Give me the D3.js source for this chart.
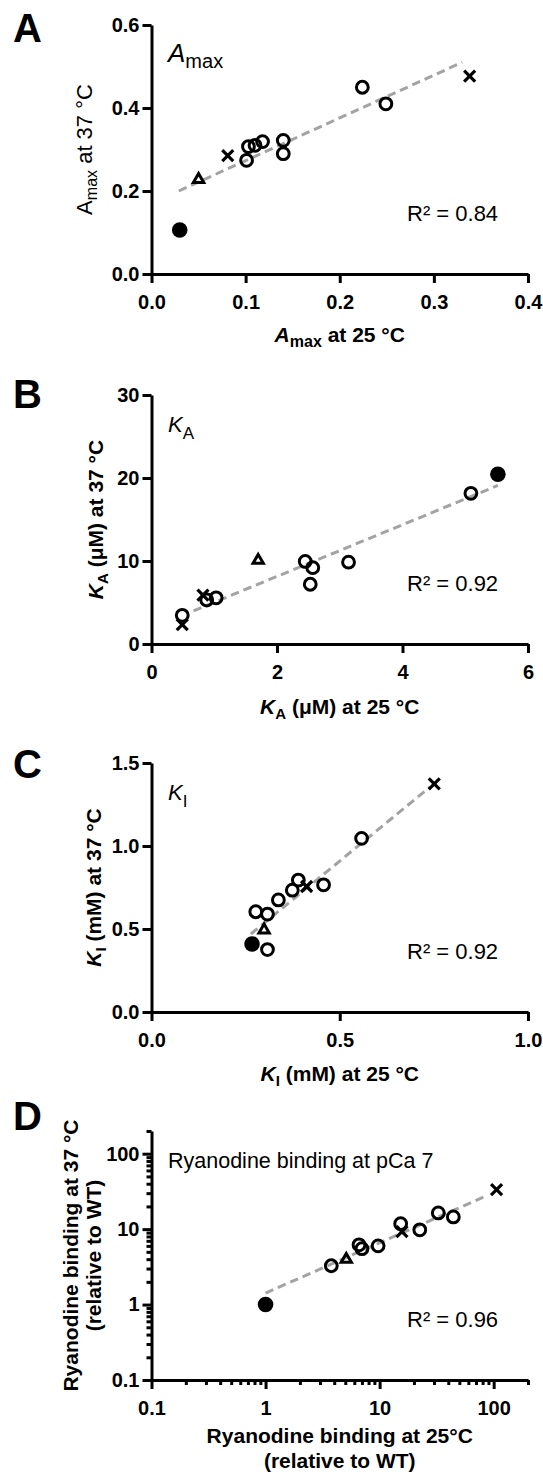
<!DOCTYPE html>
<html>
<head>
	<meta charset="UTF-8" />
	<title>25 vs 37 °C</title>
	<style>
		html, body {
			margin: 0;
			padding: 0;
			background: #fff;
		}
		svg, svg text {
			display: block;
			font-family: 'Liberation Sans', Arial, sans-serif;
		}
		.domain, .tick line {
			stroke: #000;
			stroke-width: 3px;
		}
		.tick text {
			font-family: 'Liberation Sans', Arial, sans-serif;
			font-size: 20px;
			font-weight: bold;
			fill: #000;
		}
		.fit {
			stroke: #a3a3a3;
			stroke-width: 3px;
			stroke-dasharray: 8.5, 5;
			fill: none;
		}
	</style>
	<script src="https://cdn.jsdelivr.net/npm/d3@7"></script>
</head>
<body>
<svg></svg>
<script>
// marker kinds: wt = filled circle, tri = open triangle, x = cross, o = open circle
const markType = ['wt', 'tri', 'x', 'x', 'o', 'o', 'o', 'o', 'o', 'o', 'o', 'o'];

// A: Amax
const aX = [0.030, 0.050, 0.081, 0.338, 0.101, 0.103, 0.110, 0.118, 0.140, 0.140, 0.224, 0.249];
const aY = [0.106, 0.230, 0.285, 0.477, 0.274, 0.307, 0.310, 0.319, 0.322, 0.290, 0.450, 0.410];
const aFitX = [0.029, 0.330], aFitY = [0.200, 0.510];
const aTicksX = [0, 0.1, 0.2, 0.3, 0.4], aTicksY = [0, 0.2, 0.4, 0.6];

// B: KA (uM)
const bX = [5.52, 1.70, 0.49, 0.82, 0.49, 0.88, 1.03, 2.45, 2.57, 2.53, 3.14, 5.09];
const bY = [20.45, 10.2, 2.33, 5.9, 3.46, 5.3, 5.56, 9.95, 9.2, 7.2, 9.86, 18.15];
const bFitX = [0.67, 5.52], bFitY = [4.0, 19.1];
const bTicksX = [0, 2, 4, 6], bTicksY = [0, 10, 20, 30];

// C: KI (mM)
const cX = [0.267, 0.299, 0.412, 0.751, 0.308, 0.277, 0.308, 0.337, 0.374, 0.390, 0.457, 0.558];
const cY = [0.410, 0.500, 0.756, 1.374, 0.376, 0.604, 0.590, 0.675, 0.734, 0.795, 0.766, 1.046];
const cFitX = [0.264, 0.740], cFitY = [0.47, 1.356];
const cTicksX = [0, 0.5, 1.0], cTicksY = [0, 0.5, 1.0, 1.5];

// D: ryanodine binding, relative to WT (log-log)
const dX = [1.0, 5.1, 15.7, 106, 3.77, 6.6, 7.0, 9.7, 15.3, 22.5, 32.7, 44.3];
const dY = [1.0, 4.1, 9.3, 33.4, 3.27, 6.2, 5.5, 6.0, 11.8, 9.8, 16.4, 14.5];
const dFitX = [1.0, 88], dFitY = [1.42, 28];
const dTicks = [0.1, 1, 10, 100];

const rSquared = ['0.84', '0.92', '0.92', '0.96'];

const W = 543, H = 1475;
const left = 151.5, right = 528, plotH = 249;

let svg = d3.select('svg').attr('width', W).attr('height', H);

function rich(sel, parts) {
	parts.forEach(p => {
		let t = sel.append('tspan').text(p.t);
		if (p.i) t.attr('font-style', 'italic');
		if (p.s) t.attr('font-size', p.s);
		if (p.dy) t.attr('dy', p.dy);
	});
	return sel;
}

function drawMarks(g, x, y, xs, ys) {
	let pts = xs.map((v, i) => ({x: v, y: ys[i], t: markType[i]}));
	let mark = g.append('g').selectAll('g')
		.data(pts)
		.enter().append('g')
		.attr('transform', d => `translate(${x(d.x)},${y(d.y)})`);

	mark.filter(d => d.t === 'o').append('circle')
		.attr('r', 5.9)
		.attr('fill', 'none')
		.attr('stroke', '#000')
		.attr('stroke-width', 3);
	mark.filter(d => d.t === 'wt').append('circle')
		.attr('r', 7.8)
		.attr('fill', '#000');
	mark.filter(d => d.t === 'tri').append('path')
		.attr('d', d3.symbol(d3.symbolTriangle, 46))
		.attr('transform', 'translate(0,1)')
		.attr('fill', 'none')
		.attr('stroke', '#000')
		.attr('stroke-width', 3);
	let cross = mark.filter(d => d.t === 'x');
	[[-5.5, -5.5, 5.5, 5.5], [-5.5, 5.5, 5.5, -5.5]].forEach(s => {
		cross.append('line')
			.attr('x1', s[0]).attr('y1', s[1]).attr('x2', s[2]).attr('y2', s[3])
			.attr('stroke', '#000')
			.attr('stroke-width', 3.2);
	});
}

function panel(o) {
	let g = svg.append('g');
	let x = o.x, y = o.y;
	let bottom = y.range()[0], top = y.range()[1];

	if (o.minorX) {
		g.append('g')
			.attr('transform', `translate(0,${bottom})`)
			.call(d3.axisBottom(x).tickValues(o.minorX).tickSize(5).tickFormat(''))
			.call(a => a.select('.domain').remove());
		g.append('g')
			.attr('transform', `translate(${left},0)`)
			.call(d3.axisLeft(y).tickValues(o.minorY).tickSize(5).tickFormat(''))
			.call(a => a.select('.domain').remove());
	}

	g.append('g')
		.attr('transform', `translate(0,${bottom})`)
		.call(d3.axisBottom(x).tickValues(o.ticksX).tickFormat(o.fmt).tickSize(9).tickSizeOuter(0).tickPadding(12));
	g.append('g')
		.attr('transform', `translate(${left},0)`)
		.call(d3.axisLeft(y).tickValues(o.ticksY).tickFormat(o.fmt).tickSize(9).tickSizeOuter(0).tickPadding(3));

	g.append('line')
		.attr('class', 'fit')
		.attr('x1', x(o.fitX[0])).attr('y1', y(o.fitY[0]))
		.attr('x2', x(o.fitX[1])).attr('y2', y(o.fitY[1]));

	drawMarks(g, x, y, o.xs, o.ys);

	// panel letter
	g.append('text')
		.attr('x', 13)
		.attr('y', top + o.letterDy)
		.attr('font-size', 40)
		.attr('font-weight', 'bold')
		.text(o.letter);

	// inner label
	rich(g.append('text').attr('x', 168).attr('y', top + 37).attr('font-size', o.labelSize), o.label);

	g.append('text')
		.attr('x', 407)
		.attr('y', top + 196)
		.attr('font-size', 22)
		.text('R\u00b2 = ' + o.r2);

	// axis titles
	o.xTitle.forEach((parts, i) => {
		rich(g.append('text')
			.attr('x', (left + right) / 2)
			.attr('y', bottom + o.xTitleDy[i])
			.attr('text-anchor', 'middle')
			.attr('font-size', 21)
			.attr('font-weight', 'bold'), parts);
	});
	o.yTitle.forEach((parts, i) => {
		rich(g.append('text')
			.attr('transform', `translate(${o.yTitleX[i]},${(top + bottom) / 2}) rotate(-90)`)
			.attr('text-anchor', 'middle')
			.attr('font-size', o.yTitleSize)
			.attr('font-weight', o.yTitleWeight), parts);
	});
}

const f1 = d3.format('.1f');

// A
let topA = 25;
panel({
	letter: 'A', letterDy: 17,
	x: d3.scaleLinear().domain([0, 0.4]).range([left, right]),
	y: d3.scaleLinear().domain([0, 0.6]).range([topA + plotH, topA]),
	ticksX: aTicksX, ticksY: aTicksY, fmt: f1,
	xs: aX, ys: aY, fitX: aFitX, fitY: aFitY, r2: rSquared[0],
	labelSize: 26,
	label: [{t: 'A', i: true}, {t: 'max', s: 20, dy: 6}],
	xTitle: [[{t: 'A', i: true}, {t: 'max', s: 16, dy: 5}, {t: ' at 25 \u00b0C', dy: -5}]],
	xTitleDy: [68],
	yTitle: [[{t: 'A'}, {t: 'max', s: 16, dy: 5}, {t: ' at 37 \u00b0C', dy: -5}]],
	yTitleX: [92], yTitleSize: 22, yTitleWeight: 'normal'
});

// B
let topB = 395;
panel({
	letter: 'B', letterDy: 13,
	x: d3.scaleLinear().domain([0, 6]).range([left, right]),
	y: d3.scaleLinear().domain([0, 30]).range([topB + plotH, topB]),
	ticksX: bTicksX, ticksY: bTicksY, fmt: d3.format('d'),
	xs: bX, ys: bY, fitX: bFitX, fitY: bFitY, r2: rSquared[1],
	labelSize: 22,
	label: [{t: 'K', i: true}, {t: 'A', s: 17, dy: 7}],
	xTitle: [[{t: 'K', i: true}, {t: 'A', s: 15, dy: 5}, {t: ' (\u03bcM) at 25 \u00b0C', dy: -5}]],
	xTitleDy: [70],
	yTitle: [[{t: 'K', i: true}, {t: 'A', s: 15, dy: 5}, {t: ' (\u03bcM) at 37 \u00b0C', dy: -5}]],
	yTitleX: [103], yTitleSize: 21, yTitleWeight: 'bold'
});

// C
let topC = 763;
panel({
	letter: 'C', letterDy: 15,
	x: d3.scaleLinear().domain([0, 1]).range([left, right]),
	y: d3.scaleLinear().domain([0, 1.5]).range([topC + plotH, topC]),
	ticksX: cTicksX, ticksY: cTicksY, fmt: f1,
	xs: cX, ys: cY, fitX: cFitX, fitY: cFitY, r2: rSquared[2],
	labelSize: 22,
	label: [{t: 'K', i: true}, {t: 'I', s: 17, dy: 7}],
	xTitle: [[{t: 'K', i: true}, {t: 'I', s: 15, dy: 5}, {t: ' (mM) at 25 \u00b0C', dy: -5}]],
	xTitleDy: [69],
	yTitle: [[{t: 'K', i: true}, {t: 'I', s: 15, dy: 5}, {t: ' (mM) at 37 \u00b0C', dy: -5}]],
	yTitleX: [101], yTitleSize: 21, yTitleWeight: 'bold'
});

// D
let topD = 1131;
let xD = d3.scaleLog().domain([0.1, 200]).range([left, right]);
let yD = d3.scaleLog().domain([0.1, 200]).range([topD + plotH, topD]);
let isMajor = v => Math.abs(Math.log10(v) - Math.round(Math.log10(v))) < 1e-6;
panel({
	letter: 'D', letterDy: -1,
	x: xD, y: yD,
	ticksX: dTicks, ticksY: dTicks, fmt: d => d < 1 ? '0.1' : d3.format('d')(d),
	minorX: xD.ticks().filter(v => !isMajor(v)),
	minorY: yD.ticks().filter(v => !isMajor(v)),
	xs: dX, ys: dY, fitX: dFitX, fitY: dFitY, r2: rSquared[3],
	labelSize: 21.5,
	label: [{t: 'Ryanodine binding at pCa 7'}],
	xTitle: [[{t: 'Ryanodine binding at 25\u00b0C'}], [{t: '(relative to WT)'}]],
	xTitleDy: [63, 88],
	yTitle: [[{t: 'Ryanodine binding at 37 \u00b0C'}], [{t: '(relative to WT)'}]],
	yTitleX: [78, 101], yTitleSize: 21, yTitleWeight: 'bold'
});
</script>
</body>
</html>
